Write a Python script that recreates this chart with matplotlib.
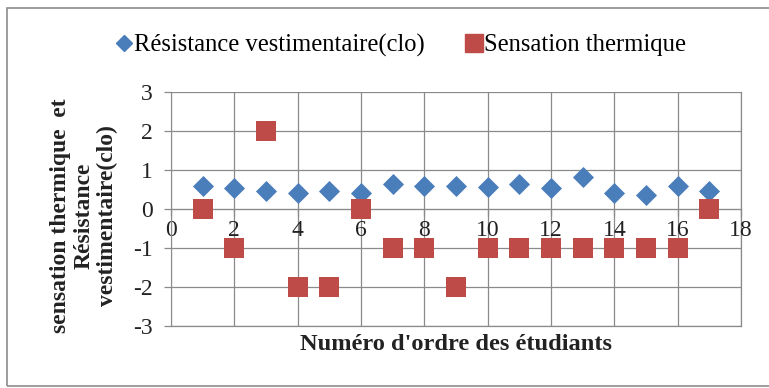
import matplotlib.pyplot as plt
from matplotlib.patches import Rectangle
from matplotlib.lines import Line2D

plt.rcParams['font.family'] = ['Liberation Serif', 'DejaVu Serif']
plt.rcParams['axes.unicode_minus'] = False

students = list(range(1, 18))
resistance_clo = [0.60, 0.54, 0.47, 0.41, 0.47, 0.41, 0.65, 0.58, 0.58,
                  0.56, 0.65, 0.54, 0.83, 0.41, 0.37, 0.60, 0.47]
sensation = [0, -1, 2, -2, -2, 0, -1, -1, -2, -1, -1, -1, -1, -1, -1, -1, 0]
x_ticks = list(range(0, 19, 2))
y_ticks = list(range(-3, 4))

W, H = 769, 388
fig = plt.figure(figsize=(W / 100, H / 100), dpi=100)
fig.patch.set_facecolor('white')

# outer chart frame
fig.patches.append(Rectangle((7 / W, 2 / H), 1.0, 378 / H, transform=fig.transFigure,
                             fill=False, edgecolor='#8c8c8c', linewidth=1.2))

left, right, top, bottom = 171, 741, 92, 326
ax = fig.add_axes([left / W, 1 - bottom / H, (right - left) / W, (bottom - top) / H])
ax.set_xlim(0, 18)
ax.set_ylim(-3, 3)
ax.set_xticks(x_ticks)
ax.set_yticks(y_ticks)
ax.grid(True, color='#8a8a8a', linewidth=0.9)
ax.set_axisbelow(True)

for s in ['top', 'right']:
    ax.spines[s].set_visible(False)
ax.spines['left'].set_color('#8a8a8a')
ax.spines['bottom'].set_color('#8a8a8a')
ax.spines['bottom'].set_position(('data', 0))
ax.plot([0, 18], [-3, -3], color='#8a8a8a', linewidth=0.9, clip_on=False, zorder=0)
ax.plot([18, 18], [-3, 3], color='#8a8a8a', linewidth=0.9, clip_on=False, zorder=0)

ax.tick_params(axis='both', colors='#8a8a8a', labelcolor='#222222', labelsize=17,
               length=5, width=0.9)
ax.tick_params(axis='x', direction='out', pad=3)
ax.tick_params(axis='y', direction='out', pad=8)
for lbl in ax.get_xticklabels():
    lbl.set_zorder(1)

ax.scatter(students, resistance_clo, marker='D', s=115, color='#4a7ebb', zorder=3,
           linewidths=0, label='Résistance vestimentaire(clo)')
ax.scatter(students, sensation, marker='s', s=200, color='#be4b48', zorder=4,
           linewidths=0, label='Sensation thermique')

fig.text(456 / W, 1 - 345 / H, "Numéro d'ordre des étudiants", ha='center', va='center',
         fontsize=17.6, fontweight='bold', color='#222222')
fig.text(84 / W, 1 - 216 / H, "sensation thermique  et\nRésistance\nvestimentaire(clo)",
         ha='center', va='center', rotation=90, fontsize=17, fontweight='bold',
         color='#222222', linespacing=1.15)

handles = [Line2D([], [], marker='D', color='#4a7ebb', linestyle='none', markersize=8),
           Line2D([], [], marker='s', color='#be4b48', linestyle='none', markersize=13)]
fig.legend(handles, ['Résistance vestimentaire(clo)', 'Sensation thermique'],
           loc='center', bbox_to_anchor=(400 / W, 1 - 45 / H), ncol=2, frameon=False,
           fontsize=17.7, handletextpad=0.0, columnspacing=1.6, handlelength=0.8)

fig.savefig('out.png', dpi=100, facecolor='white')
